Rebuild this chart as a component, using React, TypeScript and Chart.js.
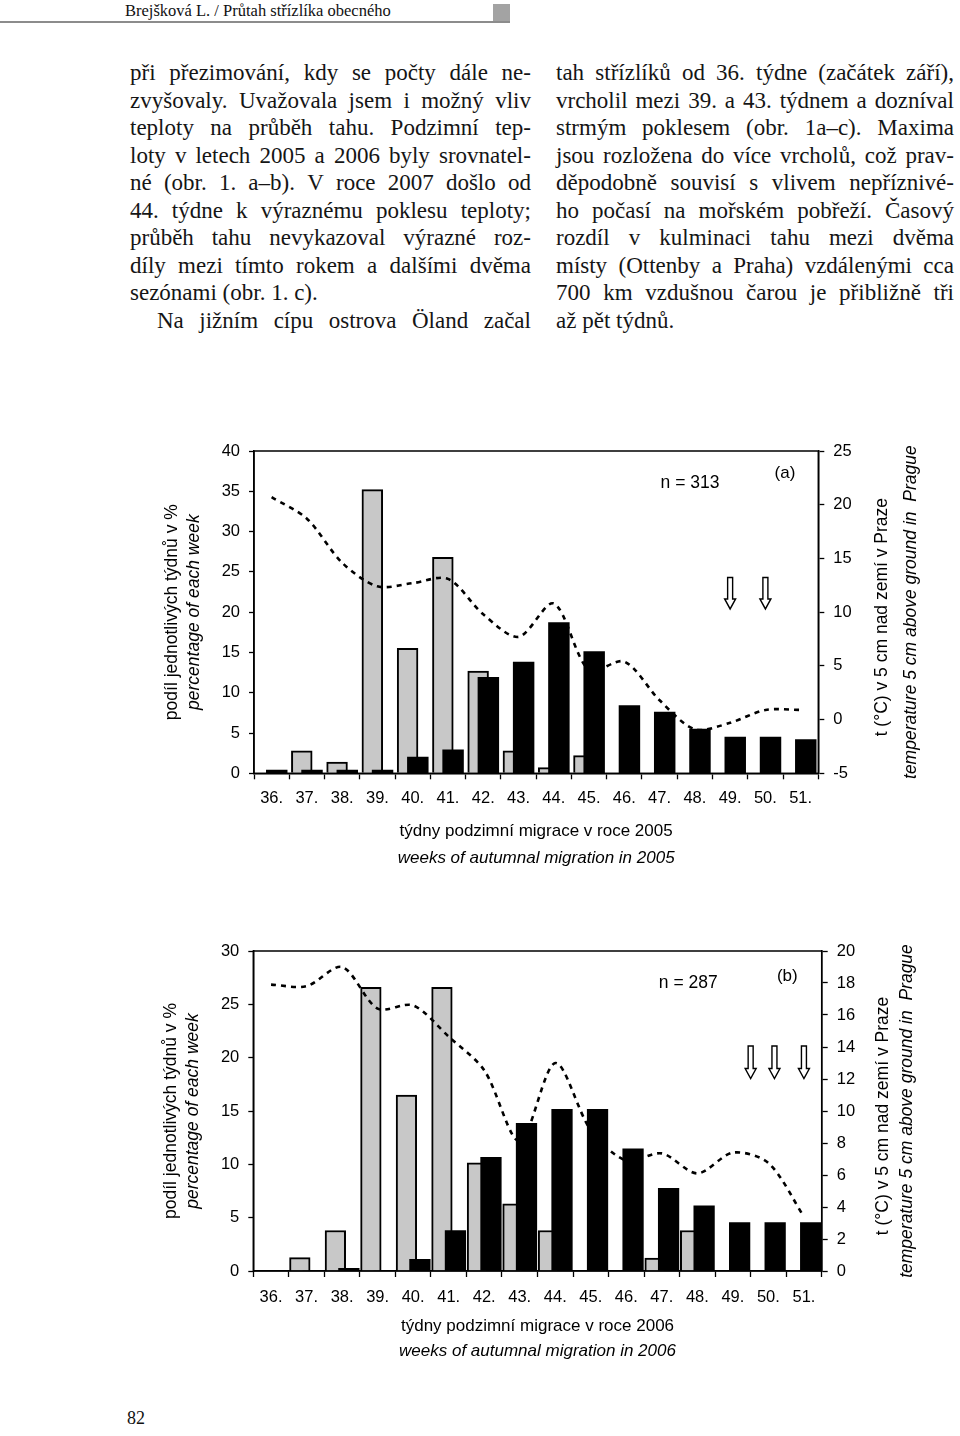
import React, { useEffect, useRef } from "react";
import { Chart, registerables } from "chart.js";

Chart.register(...registerables);

// ---------- data ----------
const FIRST_WEEK = 36;
const LAST_WEEK = 51;
const weekNums = [36, 37, 38, 39, 40, 41, 42, 43, 44, 45, 46, 47, 48, 49, 50, 51];
const weeks = ["36.", "37.", "38.", "39.", "40.", "41.", "42.", "43.", "44.", "45.", "46.", "47.", "48.", "49.", "50.", "51."];

// 2005 (a)
const ottenby2005 = [0, 2.8, 1.4, 35.2, 15.5, 26.8, 12.7, 2.8, 0.7, 2.2, 0, 0, 0, 0, 0, 0];
const praha2005 = [0.4, 0.4, 0.4, 0.4, 2.0, 2.9, 11.9, 13.8, 18.7, 15.1, 8.4, 7.6, 5.5, 4.5, 4.5, 4.2];
const temp2005 = [20.7, 18.7, 14.6, 12.4, 12.7, 13.1, 9.8, 7.7, 10.8, 4.6, 5.4, 1.8, -0.9, -0.3, 0.9, 0.9];
const arrows2005 = [49, 50];

// 2006 (b)
const ottenby2006 = [0, 1.25, 3.8, 26.6, 16.5, 26.6, 10.15, 6.3, 3.8, 0, 0, 1.2, 3.8, 0, 0, 0];
const praha2006 = [0, 0, 0.25, 0, 1.1, 3.8, 10.65, 13.85, 15.15, 15.15, 11.45, 7.75, 6.1, 4.55, 4.55, 4.55];
const temp2006 = [17.9, 17.8, 19.0, 16.4, 16.6, 14.65, 12.55, 8.1, 13.0, 8.8, 6.9, 7.35, 6.1, 7.4, 6.75, 3.4];
const arrows2006 = [49.5, 50.17, 51];

const leftTitle1 = "podíl jednotlivých týdnů v %";
const leftTitle2 = "percentage of each week";
const rightTitle1 = "t (°C) v 5 cm nad zemí v Praze";
const rightTitle2 = "temperature 5 cm above ground in  Prague";

const leftLines = [
  "při přezimování, kdy se počty dále ne-",
  "zvyšovaly. Uvažovala jsem i možný vliv",
  "teploty na průběh tahu. Podzimní tep-",
  "loty v letech 2005 a 2006 byly srovnatel-",
  "né (obr. 1. a–b). V roce 2007 došlo od",
  "44. týdne k výraznému poklesu teploty;",
  "průběh tahu nevykazoval výrazné roz-",
  "díly mezi tímto rokem a dalšími dvěma",
  "sezónami (obr. 1. c).",
  "Na jižním cípu ostrova Öland začal",
];
const rightLines = [
  "tah střízlíků od 36. týdne (začátek září),",
  "vrcholil mezi 39. a 43. týdnem a dozníval",
  "strmým poklesem (obr. 1a–c). Maxima",
  "jsou rozložena do více vrcholů, což prav-",
  "děpodobně souvisí s vlivem nepříznivé-",
  "ho počasí na mořském pobřeží. Časový",
  "rozdíl v kulminaci tahu mezi dvěma",
  "místy (Ottenby a Praha) vzdálenými cca",
  "700 km vzdušnou čarou je přibližně tři",
  "až pět týdnů.",
];

const SANS = "'Liberation Sans', Arial, Helvetica, sans-serif";
const SERIF = "'Liberation Serif', 'Times New Roman', serif";

type Panel = {
  gray: number[];
  black: number[];
  temp: number[];
  yMax: number;
  yStep: number;
  y2Min: number;
  y2Max: number;
  y2Step: number;
  arrowWeeks: number[];
  arrowTop: number;
  arrowTip: number;
  nText: string;
  tag: string;
  xTitle1: string;
  xTitle2: string;
  top: number;
  height: number;
  leftW: number;
  rightW: number;
  xAxisH: number;
  xTickPad: number;
  shift: number;
  barW: number;
  nPos: [number, number];
  tagPos: [number, number];
  xTitleDy: [number, number];
  rightTitleDx: [number, number];
};

function ChartPanel({ p }: { p: Panel }) {
  const ref = useRef<HTMLCanvasElement | null>(null);
  useEffect(() => {
    if (!ref.current) return;
    const pts = (vals: number[]) => weekNums.map((w, i) => ({ x: w, y: vals[i] }));
    const overlay = {
      id: "overlay",
      afterDatasetsDraw(chart: any) {
        const { ctx, chartArea: a } = chart;
        const xs = chart.scales.x;
        const ys = chart.scales.y;
        ctx.save();
        ctx.strokeStyle = "#000";
        ctx.lineWidth = 1.5;
        ctx.strokeRect(a.left, a.top, a.right - a.left, a.bottom - a.top);
        for (const w of p.arrowWeeks) {
          const cx = xs.getPixelForValue(w - FIRST_WEEK);
          const top = ys.getPixelForValue(p.arrowTop);
          const tip = ys.getPixelForValue(p.arrowTip);
          const headH = 10;
          const sw = 5;
          const hw = 11;
          const hs = tip - headH;
          ctx.beginPath();
          ctx.moveTo(cx - sw / 2, top);
          ctx.lineTo(cx + sw / 2, top);
          ctx.lineTo(cx + sw / 2, hs);
          ctx.lineTo(cx + hw / 2, hs);
          ctx.lineTo(cx, tip);
          ctx.lineTo(cx - hw / 2, hs);
          ctx.lineTo(cx - sw / 2, hs);
          ctx.closePath();
          ctx.fillStyle = "#fff";
          ctx.fill();
          ctx.lineWidth = 1.4;
          ctx.stroke();
        }
        ctx.fillStyle = "#000";
        ctx.textAlign = "center";
        ctx.textBaseline = "middle";
        ctx.font = `17.5px ${SANS}`;
        ctx.fillText(p.nText, a.left + p.nPos[0], a.top + p.nPos[1]);
        ctx.font = `17px ${SANS}`;
        ctx.fillText(p.tag, a.left + p.tagPos[0], a.top + p.tagPos[1]);
        ctx.restore();
      },
      afterDraw(chart: any) {
        const { ctx, chartArea: a } = chart;
        const cx = (a.left + a.right) / 2;
        const cy = (a.top + a.bottom) / 2;
        ctx.save();
        ctx.fillStyle = "#000";
        ctx.textAlign = "center";
        ctx.textBaseline = "middle";
        ctx.font = `17px ${SANS}`;
        ctx.fillText(p.xTitle1, cx, a.bottom + p.xTitleDy[0]);
        ctx.font = `italic 17px ${SANS}`;
        ctx.fillText(p.xTitle2, cx, a.bottom + p.xTitleDy[1]);
        const vtext = (t: string, x: number, y: number, font: string) => {
          ctx.save();
          ctx.translate(x, y);
          ctx.rotate(-Math.PI / 2);
          ctx.font = font;
          ctx.fillText(t, 0, 0);
          ctx.restore();
        };
        vtext(leftTitle1, a.left - 82, cy, `17.5px ${SANS}`);
        vtext(leftTitle2, a.left - 60, cy, `italic 17.5px ${SANS}`);
        vtext(rightTitle1, a.right + p.rightTitleDx[0], cy + 5, `17.5px ${SANS}`);
        vtext(rightTitle2, a.right + p.rightTitleDx[1], cy, `italic 17.5px ${SANS}`);
        ctx.restore();
      },
    };

    const tickGrid = {
      drawOnChartArea: false,
      drawTicks: true,
      tickLength: 5,
      tickColor: "#000",
      tickWidth: 1.3,
    };
    const hiddenLinear = (s: number) => ({
      type: "linear",
      position: "bottom",
      display: false,
      offset: false,
      min: FIRST_WEEK - 0.5 + s,
      max: LAST_WEEK + 0.5 + s,
    });

    const chart = new Chart(ref.current, {
      type: "bar",
      data: {
        labels: weeks,
        datasets: [
          {
            type: "line",
            label: "teplota Praha",
            data: p.temp,
            xAxisID: "x",
            yAxisID: "y2",
            borderColor: "#000",
            borderWidth: 2.6,
            borderDash: [5, 5],
            pointRadius: 0,
            tension: 0.3,
            fill: false,
            order: -1,
          } as any,
          {
            label: "Ottenby",
            data: pts(p.gray),
            xAxisID: "xg",
            yAxisID: "y",
            grouped: false,
            barThickness: p.barW,
            backgroundColor: "#c8c8c8",
            borderColor: "#000",
            borderWidth: 2,
            order: 2,
          },
          {
            label: "Praha",
            data: pts(p.black),
            xAxisID: "xk",
            yAxisID: "y",
            grouped: false,
            barThickness: p.barW,
            backgroundColor: "#000",
            borderWidth: 0,
            order: 1,
          },
        ],
      },
      options: {
        responsive: false,
        animation: false,
        events: [],
        layout: { padding: { top: 21, left: 0, right: 0, bottom: 0 } },
        plugins: { legend: { display: false }, tooltip: { enabled: false } },
        scales: {
          x: {
            type: "category",
            position: "bottom",
            offset: true,
            grid: { ...tickGrid, offset: true, tickLength: 6 },
            border: { display: true, color: "#000", width: 1.5 },
            ticks: {
              color: "#000",
              font: { family: SANS, size: 16.5 },
              padding: p.xTickPad,
              maxRotation: 0,
              autoSkip: false,
            },
            afterFit: (s: any) => {
              s.height = p.xAxisH;
            },
          },
          xg: hiddenLinear(p.shift),
          xk: hiddenLinear(-p.shift),
          y: {
            position: "left",
            min: 0,
            max: p.yMax,
            grid: tickGrid,
            border: { display: true, color: "#000", width: 1.5 },
            ticks: {
              stepSize: p.yStep,
              color: "#000",
              font: { family: SANS, size: 16.5 },
              padding: 9,
            },
            afterFit: (s: any) => {
              s.width = p.leftW;
            },
          },
          y2: {
            position: "right",
            min: p.y2Min,
            max: p.y2Max,
            grid: { ...tickGrid, tickLength: 6 },
            border: { display: true, color: "#000", width: 1.5 },
            ticks: {
              stepSize: p.y2Step,
              color: "#000",
              font: { family: SANS, size: 16.5 },
              padding: 9,
            },
            afterFit: (s: any) => {
              s.width = p.rightW;
            },
          },
        },
      } as any,
      plugins: [overlay],
    });
    return () => chart.destroy();
  }, [p]);
  return (
    <canvas
      ref={ref}
      width={840}
      height={p.height}
      style={{ position: "absolute", left: 120, top: p.top, width: 840, height: p.height, display: "block" }}
    />
  );
}

const panelA: Panel = {
  gray: ottenby2005,
  black: praha2005,
  temp: temp2005,
  yMax: 40,
  yStep: 5,
  y2Min: -5,
  y2Max: 25,
  y2Step: 5,
  arrowWeeks: arrows2005,
  arrowTop: 24.3,
  arrowTip: 20.4,
  nText: "n = 313",
  tag: "(a)",
  xTitle1: "týdny podzimní migrace v roce 2005",
  xTitle2: "weeks of autumnal migration in 2005",
  top: 430,
  height: 450,
  leftW: 134,
  rightW: 141.7,
  xAxisH: 106.7,
  xTickPad: 9,
  shift: 0.145,
  barW: 20.8,
  nPos: [436, 32],
  tagPos: [531, 22],
  xTitleDy: [58, 85],
  rightTitleDx: [64, 92.5],
};

const panelB: Panel = {
  gray: ottenby2006,
  black: praha2006,
  temp: temp2006,
  yMax: 30,
  yStep: 5,
  y2Min: 0,
  y2Max: 20,
  y2Step: 2,
  arrowWeeks: arrows2006,
  arrowTop: 21.1,
  arrowTip: 18.05,
  nText: "n = 287",
  tag: "(b)",
  xTitle1: "týdny podzimní migrace v roce 2006",
  xTitle2: "weeks of autumnal migration in 2006",
  top: 930,
  height: 440,
  leftW: 133.3,
  rightW: 138.3,
  xAxisH: 99,
  xTickPad: 11,
  shift: 0.19,
  barW: 20.6,
  nPos: [435, 32],
  tagPos: [534, 25.5],
  xTitleDy: [55, 80],
  rightTitleDx: [61, 85],
};

const LH = 27.5;

function TextLine({ text, justify, indent = 0 }: { text: string; justify: boolean; indent?: number }) {
  if (!justify) {
    return (
      <div style={{ height: LH, lineHeight: `${LH}px`, paddingLeft: indent, whiteSpace: "nowrap" }}>{text}</div>
    );
  }
  const words = text.split(" ");
  return (
    <div
      style={{
        height: LH,
        lineHeight: `${LH}px`,
        paddingLeft: indent,
        display: "flex",
        justifyContent: "space-between",
        gap: 3,
        whiteSpace: "nowrap",
      }}
    >
      {words.map((w, i) => (
        <span key={i}>{w}</span>
      ))}
    </div>
  );
}

export default function App() {
  const colStyle: React.CSSProperties = {
    position: "absolute",
    top: 59.2,
    width: 401,
    fontFamily: SERIF,
    fontSize: 23,
    color: "#151515",
  };
  return (
    <div
      style={{
        position: "absolute",
        left: 0,
        top: 0,
        width: 960,
        height: 1436,
        overflow: "hidden",
        background: "#fff",
      }}
    >
      <div
        style={{
          position: "absolute",
          left: 125,
          top: 0,
          fontFamily: SERIF,
          fontSize: 16.5,
          lineHeight: "21px",
          whiteSpace: "nowrap",
          color: "#111",
        }}
      >
        Brejšková L. / Průtah střízlíka obecného
      </div>
      <div style={{ position: "absolute", left: 0, top: 21, width: 510, height: 1.5, background: "#8c8c8c" }} />
      <div style={{ position: "absolute", left: 493, top: 3.5, width: 17, height: 17.5, background: "#a3a3a3" }} />

      <div style={{ ...colStyle, left: 130 }}>
        {leftLines.map((t, i) => (
          <TextLine key={i} text={t} justify={i !== 8} indent={i === 9 ? 27 : 0} />
        ))}
      </div>
      <div style={{ ...colStyle, left: 556, width: 398 }}>
        {rightLines.map((t, i) => (
          <TextLine key={i} text={t} justify={i !== 9} />
        ))}
      </div>

      <ChartPanel p={panelA} />
      <ChartPanel p={panelB} />

      <div
        style={{
          position: "absolute",
          left: 127,
          top: 1408,
          fontFamily: SERIF,
          fontSize: 18,
          lineHeight: "20px",
          color: "#111",
        }}
      >
        82
      </div>
    </div>
  );
}
